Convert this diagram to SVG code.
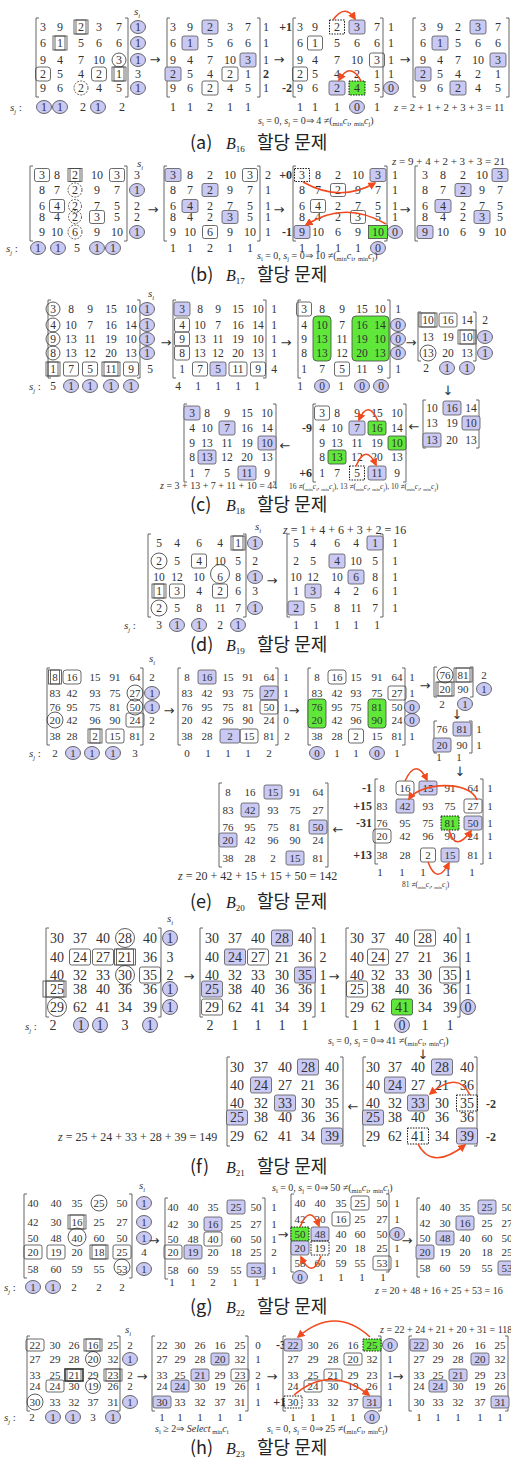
<svg xmlns="http://www.w3.org/2000/svg" width="511" height="1458" viewBox="0 0 511 1458">
<defs>
<marker id="ah" viewBox="0 0 10 10" refX="8" refY="5" markerWidth="5" markerHeight="5" orient="auto"><path d="M0,0 L10,5 L0,10 z" fill="#f04a1e"/></marker>
<style>
text{font-family:"Liberation Serif",serif;fill:#333}
.n{font-size:12px;text-anchor:middle}
#pc .n,#pd .n{font-size:11.5px}
#pe .n,#pg .n,#ph .n{font-size:11px}
#pf .n{font-size:14px}
.bd{font-weight:bold;font-size:12px;text-anchor:end}
.bl{fill:#c9c9f3;stroke:#555;stroke-width:.8}
.bx{fill:none;stroke:#444;stroke-width:.8}
.db{fill:none;stroke:#444;stroke-width:.8}
.dk{fill:none;stroke:#333;stroke-width:1.6}
.gr{fill:#5fe83a;stroke:#444;stroke-width:.8}
.dt{fill:none;stroke:#111;stroke-width:1;stroke-dasharray:1.5 1.2}
.gd{fill:#5fe83a;stroke:#111;stroke-width:1;stroke-dasharray:1.5 1.2}
.ci{fill:none;stroke:#333;stroke-width:.8}
.cd{fill:none;stroke:#333;stroke-width:.8;stroke-dasharray:2 1.2}
.cb{fill:#c9c9f3;stroke:#444;stroke-width:.8}
.br{fill:none;stroke:#555;stroke-width:.9}
.ar{fill:none;stroke:#f04a1e;stroke-width:1.6;marker-end:url(#ah)}
.op{font-family:"DejaVu Sans",sans-serif;font-size:13px;text-anchor:middle}
.mt{font-size:10px}
.sm{font-size:7.5px}
.sb{font-size:6.5px}
.sm .sb{font-size:5px}
.it{font-style:italic}
.lb{font-size:11px;font-style:italic}
.zt{font-size:12px}
.cap{font-family:"Noto Sans CJK KR","Noto Sans",sans-serif;font-size:18px;fill:#222}
.bi{font-family:"Liberation Serif",serif;font-style:italic;font-size:16px}
.bs{font-family:"Liberation Serif",serif;font-size:9px}
</style>
</defs>
<rect width="511" height="1458" fill="#fff"/>

<!-- ========== (a) ========== -->
<g id="pa">
<g id="a1">
<path class="br" d="M39,18H36V97H39M125,18H128V97H125"/>
<rect class="db" x="74" y="20" width="14" height="14"/><rect class="db" x="76" y="20" width="10" height="14"/>
<rect class="db" x="53" y="36" width="14" height="14"/><rect class="db" x="55" y="36" width="10" height="14"/>
<circle class="ci" cx="119" cy="60" r="7"/>
<rect class="bx" x="35.5" y="67" width="15" height="14" rx="3"/>
<rect class="bx" x="91.5" y="67" width="15" height="14" rx="3"/>
<rect class="db" x="112" y="67" width="14" height="14"/><rect class="db" x="114" y="67" width="10" height="14"/>
<circle class="cd" cx="81" cy="88" r="7"/>
<ellipse class="cb" cx="138" cy="27" rx="7.5" ry="6.5"/><ellipse class="cb" cx="138" cy="43" rx="7.5" ry="6.5"/><ellipse class="cb" cx="138" cy="60" rx="7.5" ry="6.5"/><ellipse class="cb" cx="138" cy="88" rx="7.5" ry="6.5"/>
<ellipse class="cb" cx="44" cy="107" rx="7.5" ry="6.5"/><ellipse class="cb" cx="60" cy="107" rx="7.5" ry="6.5"/><ellipse class="cb" cx="98" cy="107" rx="7.5" ry="6.5"/>
<text class="lb" x="134" y="15">s<tspan class="sb" dy="3">i</tspan></text>
<text class="lb" x="10" y="111">s<tspan class="sb" dy="3">j</tspan><tspan dy="-3" font-style="normal"> :</tspan></text>
<text class="n" y="31"><tspan x="43">3</tspan><tspan x="60">9</tspan><tspan x="81">2</tspan><tspan x="99">3</tspan><tspan x="119">7</tspan><tspan x="138">1</tspan></text>
<text class="n" y="47"><tspan x="43">6</tspan><tspan x="60">1</tspan><tspan x="81">5</tspan><tspan x="99">6</tspan><tspan x="119">6</tspan><tspan x="138">1</tspan></text>
<text class="n" y="64"><tspan x="43">9</tspan><tspan x="60">4</tspan><tspan x="81">7</tspan><tspan x="99">10</tspan><tspan x="119">3</tspan><tspan x="138">1</tspan></text>
<text class="n" y="78"><tspan x="43">2</tspan><tspan x="60">5</tspan><tspan x="81">4</tspan><tspan x="99">2</tspan><tspan x="119">1</tspan><tspan x="138">3</tspan></text>
<text class="n" y="92"><tspan x="43">9</tspan><tspan x="60">6</tspan><tspan x="81">2</tspan><tspan x="99">4</tspan><tspan x="119">5</tspan><tspan x="138">1</tspan></text>
<text class="n" y="111"><tspan x="44">1</tspan><tspan x="60">1</tspan><tspan x="83">2</tspan><tspan x="98">1</tspan><tspan x="122">2</tspan></text>
</g>
<g id="a2">
<path class="br" d="M170,18H167V97H170M257,18H260V97H257"/>
<rect class="bl" x="202" y="20" width="16" height="14" rx="2"/>
<rect class="bl" x="182" y="36" width="16" height="14" rx="2"/>
<rect class="bl" x="240" y="53" width="16" height="14" rx="2"/>
<rect class="bl" x="165" y="67" width="16" height="14" rx="2"/>
<rect class="bx" x="222" y="67" width="16" height="14" rx="2"/>
<rect class="bx" x="202" y="81" width="16" height="14" rx="2"/>
<text class="n" y="31"><tspan x="173">3</tspan><tspan x="190">9</tspan><tspan x="210">2</tspan><tspan x="230">3</tspan><tspan x="248">7</tspan><tspan x="266">1</tspan></text>
<text class="n" y="47"><tspan x="173">6</tspan><tspan x="190">1</tspan><tspan x="210">5</tspan><tspan x="230">6</tspan><tspan x="248">6</tspan><tspan x="266">1</tspan></text>
<text class="n" y="64"><tspan x="173">9</tspan><tspan x="190">4</tspan><tspan x="210">7</tspan><tspan x="230">10</tspan><tspan x="248">3</tspan><tspan x="266">1</tspan></text>
<text class="n" y="78"><tspan x="173">2</tspan><tspan x="190">5</tspan><tspan x="210">4</tspan><tspan x="230">2</tspan><tspan x="248">1</tspan><tspan x="266" font-weight="bold">2</tspan></text>
<text class="n" y="92"><tspan x="173">9</tspan><tspan x="190">6</tspan><tspan x="210">2</tspan><tspan x="230">4</tspan><tspan x="248">5</tspan><tspan x="266">1</tspan></text>
<text class="n" y="111"><tspan x="173">1</tspan><tspan x="190">1</tspan><tspan x="210">2</tspan><tspan x="230">1</tspan><tspan x="248">1</tspan></text>
</g>
<g id="a3">
<path class="br" d="M296,18H293V97H296M380,18H383V97H380"/>
<text class="bd" x="292" y="31">+1</text><text class="bd" x="292" y="92">-2</text>
<rect class="dt" x="329.5" y="20" width="15" height="14"/>
<rect class="bl" x="349" y="20" width="16" height="14" rx="2"/>
<rect class="bx" x="307.5" y="36" width="15" height="14" rx="2"/>
<rect class="bx" x="369.5" y="53" width="15" height="14" rx="2"/>
<rect class="bx" x="292.5" y="67" width="15" height="14" rx="2"/>
<rect class="bl" x="329" y="81" width="16" height="14" rx="2"/>
<rect class="gd" x="349" y="81" width="16" height="14"/>
<ellipse class="cb" cx="391" cy="88" rx="7.5" ry="6.5"/>
<ellipse class="cb" cx="357" cy="107" rx="7.5" ry="6.5"/>
<text class="n" y="31"><tspan x="300">3</tspan><tspan x="315">9</tspan><tspan x="337">2</tspan><tspan x="357">3</tspan><tspan x="377">7</tspan><tspan x="391">1</tspan></text>
<text class="n" y="47"><tspan x="300">6</tspan><tspan x="315">1</tspan><tspan x="337">5</tspan><tspan x="357">6</tspan><tspan x="377">6</tspan><tspan x="391">1</tspan></text>
<text class="n" y="64"><tspan x="300">9</tspan><tspan x="315">4</tspan><tspan x="337">7</tspan><tspan x="357">10</tspan><tspan x="377">3</tspan><tspan x="391">1</tspan></text>
<text class="n" y="78"><tspan x="300">2</tspan><tspan x="315">5</tspan><tspan x="337">4</tspan><tspan x="357">2</tspan><tspan x="377">1</tspan><tspan x="391">1</tspan></text>
<text class="n" y="92"><tspan x="300">9</tspan><tspan x="315">6</tspan><tspan x="337">2</tspan><tspan x="357">4</tspan><tspan x="377">5</tspan><tspan x="391">0</tspan></text>
<text class="n" y="111"><tspan x="300">1</tspan><tspan x="315">1</tspan><tspan x="337">1</tspan><tspan x="357">0</tspan><tspan x="377">1</tspan></text>
<text class="mt" x="258" y="124"><tspan class="it">s</tspan><tspan class="sb" dy="2">i</tspan><tspan dy="-2"> = 0, </tspan><tspan class="it">s</tspan><tspan class="sb" dy="2">j</tspan><tspan dy="-2"> = 0⇒ 4 ≠(</tspan><tspan class="sb" dy="2">min</tspan><tspan class="it" dy="-2">c</tspan><tspan class="sb" dy="2">i</tspan><tspan dy="-2">, </tspan><tspan class="sb" dy="2">min</tspan><tspan class="it" dy="-2">c</tspan><tspan class="sb" dy="2">j</tspan><tspan dy="-2">)</tspan></text>
</g>
<g id="a4">
<path class="br" d="M416,18H413V97H416M506,18H509V97H506"/>
<rect class="bl" x="470" y="20" width="16" height="14" rx="2"/>
<rect class="bl" x="432" y="36" width="16" height="14" rx="2"/>
<rect class="bl" x="490" y="53" width="16" height="14" rx="2"/>
<rect class="bl" x="415" y="67" width="16" height="14" rx="2"/>
<rect class="bl" x="450" y="81" width="16" height="14" rx="2"/>
<text class="n" y="31"><tspan x="423">3</tspan><tspan x="440">9</tspan><tspan x="458">2</tspan><tspan x="478">3</tspan><tspan x="498">7</tspan></text>
<text class="n" y="47"><tspan x="423">6</tspan><tspan x="440">1</tspan><tspan x="458">5</tspan><tspan x="478">6</tspan><tspan x="498">6</tspan></text>
<text class="n" y="64"><tspan x="423">9</tspan><tspan x="440">4</tspan><tspan x="458">7</tspan><tspan x="478">10</tspan><tspan x="498">3</tspan></text>
<text class="n" y="78"><tspan x="423">2</tspan><tspan x="440">5</tspan><tspan x="458">4</tspan><tspan x="478">2</tspan><tspan x="498">1</tspan></text>
<text class="n" y="92"><tspan x="423">9</tspan><tspan x="440">6</tspan><tspan x="458">2</tspan><tspan x="478">4</tspan><tspan x="498">5</tspan></text>
<text x="394" y="111" font-size="10.8"><tspan class="it">z</tspan> = 2 + 1 + 2 + 3 + 3 = 11</text>
</g>
<g id="capa"><text class="cap" y="149"><tspan x="190">(a)</tspan><tspan class="bi" x="226">B</tspan><tspan class="bs" dy="3">16</tspan><tspan x="257" dy="-3">할당 문제</tspan></text></g>
</g>

<!-- ========== (b) ========== -->
<g id="pb">
<g id="b1">
<path class="br" d="M33,166H30V241H33M124,166H127V241H124"/>
<rect class="bx" x="34.5" y="168.5" width="15" height="13" rx="2"/>
<rect class="db" x="68" y="168.5" width="14" height="13"/><rect class="db" x="70" y="168.5" width="10" height="13"/>
<rect class="bx" x="109.5" y="168.5" width="15" height="13" rx="2"/>
<circle class="cd" cx="75" cy="190" r="7"/>
<rect class="bx" x="49.5" y="199.5" width="15" height="13" rx="2"/>
<circle class="cd" cx="75" cy="206" r="6.5"/>
<circle class="cd" cx="75" cy="217" r="6.5"/>
<rect class="bx" x="89.5" y="210.5" width="15" height="13" rx="2"/>
<circle class="cd" cx="75" cy="232" r="7"/>
<ellipse class="cb" cx="137" cy="190" rx="7.5" ry="6.5"/><ellipse class="cb" cx="137" cy="232" rx="7.5" ry="6.5"/>
<ellipse class="cb" cx="38" cy="248" rx="7.5" ry="6.5"/><ellipse class="cb" cx="58" cy="248" rx="7.5" ry="6.5"/><ellipse class="cb" cx="97" cy="248" rx="7.5" ry="6.5"/><ellipse class="cb" cx="113" cy="248" rx="7.5" ry="6.5"/>
<text class="lb" x="137" y="167">s<tspan class="sb" dy="3">i</tspan></text>
<text class="lb" x="6" y="252">s<tspan class="sb" dy="3">j</tspan><tspan dy="-3" font-style="normal"> :</tspan></text>
<text class="n" y="179"><tspan x="42">3</tspan><tspan x="57">8</tspan><tspan x="75">2</tspan><tspan x="97">10</tspan><tspan x="117">3</tspan><tspan x="137">3</tspan></text>
<text class="n" y="194"><tspan x="42">8</tspan><tspan x="57">7</tspan><tspan x="75">2</tspan><tspan x="97">9</tspan><tspan x="117">7</tspan><tspan x="137">1</tspan></text>
<text class="n" y="210"><tspan x="42">6</tspan><tspan x="57">4</tspan><tspan x="75">2</tspan><tspan x="97">7</tspan><tspan x="117">5</tspan><tspan x="137">2</tspan></text>
<text class="n" y="221"><tspan x="42">8</tspan><tspan x="57">4</tspan><tspan x="75">2</tspan><tspan x="97">3</tspan><tspan x="117">5</tspan><tspan x="137">2</tspan></text>
<text class="n" y="236"><tspan x="42">9</tspan><tspan x="57">10</tspan><tspan x="75">6</tspan><tspan x="97">9</tspan><tspan x="117">10</tspan><tspan x="137">1</tspan></text>
<text class="n" y="252"><tspan x="38">1</tspan><tspan x="58">1</tspan><tspan x="77">5</tspan><tspan x="97">1</tspan><tspan x="113">1</tspan></text>
</g>
<g id="b2">
<path class="br" d="M167,166H164V241H167M257,166H260V241H257"/>
<rect class="bl" x="165" y="168.5" width="16" height="13" rx="2"/>
<rect class="bx" x="242.5" y="168.5" width="15" height="13" rx="2"/>
<rect class="bl" x="202" y="183.5" width="16" height="13" rx="2"/>
<rect class="bl" x="182" y="199.5" width="16" height="13" rx="2"/>
<rect class="bl" x="222" y="210.5" width="16" height="13" rx="2"/>
<rect class="bx" x="202.5" y="225.5" width="15" height="13" rx="2"/>
<text class="n" y="179"><tspan x="173">3</tspan><tspan x="190">8</tspan><tspan x="210">2</tspan><tspan x="230">10</tspan><tspan x="250">3</tspan><tspan x="268">2</tspan></text>
<text class="n" y="194"><tspan x="173">8</tspan><tspan x="190">7</tspan><tspan x="210">2</tspan><tspan x="230">9</tspan><tspan x="250">7</tspan><tspan x="268">1</tspan></text>
<text class="n" y="210"><tspan x="173">6</tspan><tspan x="190">4</tspan><tspan x="210">2</tspan><tspan x="230">7</tspan><tspan x="250">5</tspan><tspan x="268">1</tspan></text>
<text class="n" y="221"><tspan x="173">8</tspan><tspan x="190">4</tspan><tspan x="210">2</tspan><tspan x="230">3</tspan><tspan x="250">5</tspan><tspan x="268">1</tspan></text>
<text class="n" y="236"><tspan x="173">9</tspan><tspan x="190">10</tspan><tspan x="210">6</tspan><tspan x="230">9</tspan><tspan x="250">10</tspan><tspan x="268">1</tspan></text>
<text class="n" y="252"><tspan x="173">1</tspan><tspan x="190">1</tspan><tspan x="210">2</tspan><tspan x="230">1</tspan><tspan x="250">1</tspan></text>
</g>
<g id="b3">
<path class="br" d="M296,166H293V241H296M384,166H387V241H384"/>
<text class="bd" x="292" y="179">+0</text><text class="bd" x="292" y="236">-1</text>
<rect class="dt" x="294.5" y="168.5" width="15" height="13"/>
<rect class="bl" x="370" y="168.5" width="16" height="13" rx="2"/>
<rect class="bx" x="330.5" y="183.5" width="15" height="13" rx="2"/>
<rect class="bx" x="310.5" y="199.5" width="15" height="13" rx="2"/>
<rect class="bx" x="350.5" y="210.5" width="15" height="13" rx="2"/>
<rect class="bl" x="294" y="225.5" width="16" height="13" rx="2"/>
<rect class="gr" x="368.5" y="225.5" width="19" height="13"/>
<ellipse class="cb" cx="395" cy="232" rx="7.5" ry="6.5"/>
<ellipse class="cb" cx="378" cy="248" rx="7.5" ry="6.5"/>
<text class="n" y="179"><tspan x="302">3</tspan><tspan x="318">8</tspan><tspan x="338">2</tspan><tspan x="358">10</tspan><tspan x="378">3</tspan><tspan x="395">1</tspan></text>
<text class="n" y="194"><tspan x="302">8</tspan><tspan x="318">7</tspan><tspan x="338">2</tspan><tspan x="358">9</tspan><tspan x="378">7</tspan><tspan x="395">1</tspan></text>
<text class="n" y="210"><tspan x="302">6</tspan><tspan x="318">4</tspan><tspan x="338">2</tspan><tspan x="358">7</tspan><tspan x="378">5</tspan><tspan x="395">1</tspan></text>
<text class="n" y="221"><tspan x="302">8</tspan><tspan x="318">4</tspan><tspan x="338">2</tspan><tspan x="358">3</tspan><tspan x="378">5</tspan><tspan x="395">1</tspan></text>
<text class="n" y="236"><tspan x="302">9</tspan><tspan x="318">10</tspan><tspan x="338">6</tspan><tspan x="358">9</tspan><tspan x="378">10</tspan><tspan x="395">0</tspan></text>
<text class="n" y="252"><tspan x="302">1</tspan><tspan x="318">1</tspan><tspan x="338">1</tspan><tspan x="358">1</tspan><tspan x="378">0</tspan></text>
<text class="mt" x="257" y="259"><tspan class="it">s</tspan><tspan class="sb" dy="2">i</tspan><tspan dy="-2"> = 0, </tspan><tspan class="it">s</tspan><tspan class="sb" dy="2">j</tspan><tspan dy="-2"> = 0⇒ 10 ≠(</tspan><tspan class="sb" dy="2">min</tspan><tspan class="it" dy="-2">c</tspan><tspan class="sb" dy="2">i</tspan><tspan dy="-2">, </tspan><tspan class="sb" dy="2">min</tspan><tspan class="it" dy="-2">c</tspan><tspan class="sb" dy="2">j</tspan><tspan dy="-2">)</tspan></text>
</g>
<g id="b4">
<path class="br" d="M418,166H415V241H418"/>
<rect class="bl" x="492" y="168.5" width="16" height="13" rx="2"/>
<rect class="bl" x="455" y="183.5" width="16" height="13" rx="2"/>
<rect class="bl" x="435" y="199.5" width="16" height="13" rx="2"/>
<rect class="bl" x="474" y="210.5" width="16" height="13" rx="2"/>
<rect class="bl" x="417" y="225.5" width="16" height="13" rx="2"/>
<text class="n" y="179"><tspan x="425">3</tspan><tspan x="443">8</tspan><tspan x="463">2</tspan><tspan x="482">10</tspan><tspan x="500">3</tspan></text>
<text class="n" y="194"><tspan x="425">8</tspan><tspan x="443">7</tspan><tspan x="463">2</tspan><tspan x="482">9</tspan><tspan x="500">7</tspan></text>
<text class="n" y="210"><tspan x="425">6</tspan><tspan x="443">4</tspan><tspan x="463">2</tspan><tspan x="482">7</tspan><tspan x="500">5</tspan></text>
<text class="n" y="221"><tspan x="425">8</tspan><tspan x="443">4</tspan><tspan x="463">2</tspan><tspan x="482">3</tspan><tspan x="500">5</tspan></text>
<text class="n" y="236"><tspan x="425">9</tspan><tspan x="443">10</tspan><tspan x="463">6</tspan><tspan x="482">9</tspan><tspan x="500">10</tspan></text>
<text x="392" y="165" font-size="11"><tspan class="it">z</tspan> = 9 + 4 + 2 + 3 + 3 = 21</text>
</g>
<g id="capb"><text class="cap" y="281"><tspan x="190">(b)</tspan><tspan class="bi" x="226">B</tspan><tspan class="bs" dy="3">17</tspan><tspan x="257" dy="-3">할당 문제</tspan></text></g>
</g>

<!-- ========== (c) ========== -->
<g id="pc">
<g id="c1">
<path class="br" d="M51,300H48V378H51M137,300H140V378H137"/>
<circle class="ci" cx="53" cy="309" r="7"/><circle class="ci" cx="53" cy="325" r="7"/><circle class="ci" cx="53" cy="339" r="7"/><circle class="ci" cx="53" cy="353" r="7"/>
<rect class="db" x="46" y="362" width="14" height="14"/><rect class="db" x="48" y="362" width="10" height="14"/>
<rect class="bx" x="63.5" y="362" width="15" height="14" rx="2"/>
<rect class="bx" x="82.5" y="362" width="15" height="14" rx="2"/>
<rect class="db" x="102" y="362" width="18" height="14"/><rect class="db" x="104" y="362" width="14" height="14"/>
<rect class="bx" x="123.5" y="362" width="15" height="14" rx="2"/>
<ellipse class="cb" cx="147" cy="309" rx="7.5" ry="6.5"/><ellipse class="cb" cx="147" cy="325" rx="7.5" ry="6.5"/><ellipse class="cb" cx="147" cy="339" rx="7.5" ry="6.5"/><ellipse class="cb" cx="147" cy="353" rx="7.5" ry="6.5"/>
<ellipse class="cb" cx="71" cy="386" rx="7.5" ry="6.5"/><ellipse class="cb" cx="90" cy="386" rx="7.5" ry="6.5"/><ellipse class="cb" cx="111" cy="386" rx="7.5" ry="6.5"/><ellipse class="cb" cx="131" cy="386" rx="7.5" ry="6.5"/>
<text class="lb" x="148" y="297">s<tspan class="sb" dy="3">i</tspan></text>
<text class="lb" x="29" y="390">s<tspan class="sb" dy="3">j</tspan><tspan dy="-3" font-style="normal"> :</tspan></text>
<text class="n" y="313"><tspan x="53">3</tspan><tspan x="71">8</tspan><tspan x="90">9</tspan><tspan x="111">15</tspan><tspan x="131">10</tspan><tspan x="147">1</tspan></text>
<text class="n" y="329"><tspan x="53">4</tspan><tspan x="71">10</tspan><tspan x="90">7</tspan><tspan x="111">16</tspan><tspan x="131">14</tspan><tspan x="147">1</tspan></text>
<text class="n" y="343"><tspan x="53">9</tspan><tspan x="71">13</tspan><tspan x="90">11</tspan><tspan x="111">19</tspan><tspan x="131">10</tspan><tspan x="147">1</tspan></text>
<text class="n" y="357"><tspan x="53">8</tspan><tspan x="71">13</tspan><tspan x="90">12</tspan><tspan x="111">20</tspan><tspan x="131">13</tspan><tspan x="147">1</tspan></text>
<text class="n" y="373"><tspan x="53">1</tspan><tspan x="71">7</tspan><tspan x="90">5</tspan><tspan x="111">11</tspan><tspan x="131">9</tspan><tspan x="150">5</tspan></text>
<text class="n" y="390"><tspan x="53">5</tspan><tspan x="71">1</tspan><tspan x="90">1</tspan><tspan x="111">1</tspan><tspan x="131">1</tspan></text>
</g>
<g id="c2">
<path class="br" d="M176,300H173V378H176M263,300H266V378H263"/>
<rect class="bl" x="174" y="302" width="16" height="14" rx="2"/>
<rect class="bx" x="174.5" y="318" width="15" height="14" rx="2"/>
<rect class="bx" x="174.5" y="332" width="15" height="14" rx="2"/>
<rect class="bx" x="174.5" y="346" width="15" height="14" rx="2"/>
<rect class="bx" x="192.5" y="362" width="15" height="14" rx="2"/>
<rect class="bl" x="210" y="362" width="16" height="14" rx="2"/>
<rect class="bx" x="229" y="362" width="18" height="14" rx="2"/>
<rect class="bx" x="250.5" y="362" width="15" height="14" rx="2"/>
<text class="n" y="313"><tspan x="182">3</tspan><tspan x="200">8</tspan><tspan x="218">9</tspan><tspan x="238">15</tspan><tspan x="258">10</tspan><tspan x="274">1</tspan></text>
<text class="n" y="329"><tspan x="182">4</tspan><tspan x="200">10</tspan><tspan x="218">7</tspan><tspan x="238">16</tspan><tspan x="258">14</tspan><tspan x="274">1</tspan></text>
<text class="n" y="343"><tspan x="182">9</tspan><tspan x="200">13</tspan><tspan x="218">11</tspan><tspan x="238">19</tspan><tspan x="258">10</tspan><tspan x="274">1</tspan></text>
<text class="n" y="357"><tspan x="182">8</tspan><tspan x="200">13</tspan><tspan x="218">12</tspan><tspan x="238">20</tspan><tspan x="258">13</tspan><tspan x="274">1</tspan></text>
<text class="n" y="373"><tspan x="182">1</tspan><tspan x="200">7</tspan><tspan x="218">5</tspan><tspan x="238">11</tspan><tspan x="258">9</tspan><tspan x="274">4</tspan></text>
<text class="n" y="390"><tspan x="178">4</tspan><tspan x="198">1</tspan><tspan x="218">1</tspan><tspan x="238">1</tspan><tspan x="257">1</tspan></text>
</g>
<g id="c3">
<path class="br" d="M301,300H298V378H301M387,300H390V378H387"/>
<rect class="bx" x="296.5" y="302" width="15" height="14" rx="2"/>
<rect class="gr" x="313" y="316" width="18" height="45" rx="4"/>
<rect class="gr" x="352" y="316" width="37" height="45" rx="4"/>
<rect class="bx" x="334.5" y="362" width="15" height="14" rx="2"/>
<ellipse class="cb" cx="398" cy="325" rx="7.5" ry="6.5"/><ellipse class="cb" cx="398" cy="339" rx="7.5" ry="6.5"/><ellipse class="cb" cx="398" cy="353" rx="7.5" ry="6.5"/>
<ellipse class="cb" cx="322" cy="386" rx="7.5" ry="6.5"/><ellipse class="cb" cx="362" cy="386" rx="7.5" ry="6.5"/><ellipse class="cb" cx="381" cy="386" rx="7.5" ry="6.5"/>
<text class="n" y="313"><tspan x="304">3</tspan><tspan x="322">8</tspan><tspan x="342">9</tspan><tspan x="362">15</tspan><tspan x="380">10</tspan><tspan x="398">1</tspan></text>
<text class="n" y="329"><tspan x="304">4</tspan><tspan x="322">10</tspan><tspan x="342">7</tspan><tspan x="362">16</tspan><tspan x="380">14</tspan><tspan x="398">0</tspan></text>
<text class="n" y="343"><tspan x="304">9</tspan><tspan x="322">13</tspan><tspan x="342">11</tspan><tspan x="362">19</tspan><tspan x="380">10</tspan><tspan x="398">0</tspan></text>
<text class="n" y="357"><tspan x="304">8</tspan><tspan x="322">13</tspan><tspan x="342">12</tspan><tspan x="362">20</tspan><tspan x="380">13</tspan><tspan x="398">0</tspan></text>
<text class="n" y="373"><tspan x="304">1</tspan><tspan x="322">7</tspan><tspan x="342">5</tspan><tspan x="362">11</tspan><tspan x="380">9</tspan><tspan x="398">1</tspan></text>
<text class="n" y="390"><tspan x="300">1</tspan><tspan x="322">0</tspan><tspan x="341">1</tspan><tspan x="362">0</tspan><tspan x="381">0</tspan></text>
</g>
<g id="c4">
<path class="br" d="M421,312H418V361H421M473,312H476V361H473"/>
<rect class="db" x="419" y="313" width="18" height="14"/><rect class="db" x="421" y="313" width="14" height="14"/>
<rect class="bx" x="439" y="313" width="18" height="14" rx="2"/>
<rect class="db" x="458" y="330" width="18" height="14"/><rect class="db" x="460" y="330" width="14" height="14"/>
<circle class="ci" cx="428" cy="353" r="8"/>
<ellipse class="cb" cx="485" cy="337" rx="7.5" ry="6.5"/><ellipse class="cb" cx="485" cy="353" rx="7.5" ry="6.5"/>
<ellipse class="cb" cx="447" cy="368" rx="7.5" ry="6.5"/><ellipse class="cb" cx="467" cy="368" rx="7.5" ry="6.5"/>
<text class="n" y="324"><tspan x="428">10</tspan><tspan x="448">16</tspan><tspan x="467">14</tspan><tspan x="485">2</tspan></text>
<text class="n" y="341"><tspan x="428">13</tspan><tspan x="448">19</tspan><tspan x="467">10</tspan><tspan x="485">1</tspan></text>
<text class="n" y="357"><tspan x="428">13</tspan><tspan x="448">20</tspan><tspan x="467">13</tspan><tspan x="485">1</tspan></text>
<text class="n" y="372"><tspan x="426">2</tspan><tspan x="447">1</tspan><tspan x="467">1</tspan></text>
</g>
<g id="c5">
<path class="br" d="M426,400H423V448H426M476,400H479V448H476"/>
<rect class="bl" x="443" y="401" width="18" height="14" rx="2"/>
<rect class="bl" x="462" y="416" width="18" height="14" rx="2"/>
<rect class="bl" x="423" y="433" width="18" height="14" rx="2"/>
<text class="n" y="412"><tspan x="432">10</tspan><tspan x="452">16</tspan><tspan x="471">14</tspan></text>
<text class="n" y="427"><tspan x="432">13</tspan><tspan x="452">19</tspan><tspan x="471">10</tspan></text>
<text class="n" y="444"><tspan x="432">13</tspan><tspan x="452">20</tspan><tspan x="471">13</tspan></text>
</g>
<g id="c6">
<path class="br" d="M316,404H313V482H316M403,404H406V482H403"/>
<text class="bd" x="312" y="432">-9</text><text class="bd" x="312" y="477">+6</text>
<rect class="bx" x="314.5" y="406" width="15" height="14" rx="2"/>
<rect class="bl" x="349" y="421" width="16" height="14" rx="2"/>
<rect class="gr" x="368" y="421" width="18" height="14" rx="2"/>
<rect class="gr" x="388" y="436" width="18" height="14" rx="2"/>
<rect class="gr" x="328" y="450" width="18" height="14" rx="2"/>
<rect class="dt" x="349.5" y="466" width="15" height="14"/>
<rect class="bl" x="368" y="466" width="18" height="14" rx="2"/>
<text class="n" y="417"><tspan x="322">3</tspan><tspan x="337">8</tspan><tspan x="357">9</tspan><tspan x="377">15</tspan><tspan x="397">10</tspan></text>
<text class="n" y="432"><tspan x="322">4</tspan><tspan x="337">10</tspan><tspan x="357">7</tspan><tspan x="377">16</tspan><tspan x="397">14</tspan></text>
<text class="n" y="447"><tspan x="322">9</tspan><tspan x="337">13</tspan><tspan x="357">11</tspan><tspan x="377">19</tspan><tspan x="397">10</tspan></text>
<text class="n" y="461"><tspan x="322">8</tspan><tspan x="337">13</tspan><tspan x="357">12</tspan><tspan x="377">20</tspan><tspan x="397">13</tspan></text>
<text class="n" y="477"><tspan x="322">1</tspan><tspan x="337">7</tspan><tspan x="357">5</tspan><tspan x="377">11</tspan><tspan x="397">9</tspan></text>
</g>
<g id="c7">
<path class="br" d="M187,404H184V482H187M273,404H276V482H273"/>
<rect class="bl" x="184" y="406" width="16" height="14" rx="2"/>
<rect class="bl" x="219" y="421" width="16" height="14" rx="2"/>
<rect class="bl" x="258" y="436" width="18" height="14" rx="2"/>
<rect class="bl" x="198" y="450" width="18" height="14" rx="2"/>
<rect class="bl" x="238" y="466" width="18" height="14" rx="2"/>
<text class="n" y="417"><tspan x="192">3</tspan><tspan x="207">8</tspan><tspan x="227">9</tspan><tspan x="247">15</tspan><tspan x="267">10</tspan></text>
<text class="n" y="432"><tspan x="192">4</tspan><tspan x="207">10</tspan><tspan x="227">7</tspan><tspan x="247">16</tspan><tspan x="267">14</tspan></text>
<text class="n" y="447"><tspan x="192">9</tspan><tspan x="207">13</tspan><tspan x="227">11</tspan><tspan x="247">19</tspan><tspan x="267">10</tspan></text>
<text class="n" y="461"><tspan x="192">8</tspan><tspan x="207">13</tspan><tspan x="227">12</tspan><tspan x="247">20</tspan><tspan x="267">13</tspan></text>
<text class="n" y="477"><tspan x="192">1</tspan><tspan x="207">7</tspan><tspan x="227">5</tspan><tspan x="247">11</tspan><tspan x="267">9</tspan></text>
<text class="mt" x="160" y="489" font-size="10.5"><tspan class="it">z</tspan> = 3 + 13 + 7 + 11 + 10 = 44</text>
<text class="sm" x="289" y="489">16 ≠(<tspan class="sb" dy="1.5">min</tspan><tspan class="it" dy="-1.5">c</tspan><tspan class="sb" dy="1.5">i</tspan><tspan dy="-1.5">, </tspan><tspan class="sb" dy="1.5">min</tspan><tspan class="it" dy="-1.5">c</tspan><tspan class="sb" dy="1.5">j</tspan><tspan dy="-1.5">), 13 ≠(</tspan><tspan class="sb" dy="1.5">min</tspan><tspan class="it" dy="-1.5">c</tspan><tspan class="sb" dy="1.5">i</tspan><tspan dy="-1.5">, </tspan><tspan class="sb" dy="1.5">min</tspan><tspan class="it" dy="-1.5">c</tspan><tspan class="sb" dy="1.5">j</tspan><tspan dy="-1.5">), 10 ≠(</tspan><tspan class="sb" dy="1.5">min</tspan><tspan class="it" dy="-1.5">c</tspan><tspan class="sb" dy="1.5">i</tspan><tspan dy="-1.5">, </tspan><tspan class="sb" dy="1.5">min</tspan><tspan class="it" dy="-1.5">c</tspan><tspan class="sb" dy="1.5">j</tspan><tspan dy="-1.5">)</tspan></text>
</g>
<g id="capc"><text class="cap" y="511"><tspan x="190">(c)</tspan><tspan class="bi" x="226">B</tspan><tspan class="bs" dy="3">18</tspan><tspan x="257" dy="-3">할당 문제</tspan></text></g>
</g>

<!-- ========== (d) ========== -->
<g id="pd">
<g id="d1">
<path class="br" d="M151,534H148V617H151M243,534H246V617H243"/>
<rect class="db" x="231" y="536" width="14" height="14"/><rect class="db" x="233" y="536" width="10" height="14"/>
<circle class="ci" cx="159" cy="561" r="8"/>
<rect class="bx" x="191.5" y="554" width="15" height="14" rx="2"/>
<circle class="ci" cx="220" cy="574" r="9.5"/>
<rect class="db" x="152" y="584" width="14" height="14"/><rect class="db" x="154" y="584" width="10" height="14"/>
<rect class="bx" x="169.5" y="584" width="15" height="14" rx="2"/>
<rect class="bx" x="212.5" y="584" width="15" height="14" rx="2"/>
<circle class="ci" cx="159" cy="608" r="8"/>
<ellipse class="cb" cx="255" cy="543" rx="7.5" ry="6.5"/><ellipse class="cb" cx="255" cy="577" rx="7.5" ry="6.5"/><ellipse class="cb" cx="255" cy="608" rx="7.5" ry="6.5"/>
<ellipse class="cb" cx="177" cy="625" rx="7.5" ry="6.5"/><ellipse class="cb" cx="199" cy="625" rx="7.5" ry="6.5"/><ellipse class="cb" cx="238" cy="625" rx="7.5" ry="6.5"/>
<text class="lb" x="255" y="530">s<tspan class="sb" dy="3">i</tspan></text>
<text class="lb" x="124" y="629">s<tspan class="sb" dy="3">j</tspan><tspan dy="-3" font-style="normal"> :</tspan></text>
<text class="n" y="547"><tspan x="159">5</tspan><tspan x="177">4</tspan><tspan x="199">6</tspan><tspan x="220">4</tspan><tspan x="238">1</tspan><tspan x="255">1</tspan></text>
<text class="n" y="565"><tspan x="159">2</tspan><tspan x="177">5</tspan><tspan x="199">4</tspan><tspan x="220">10</tspan><tspan x="238">5</tspan><tspan x="255">2</tspan></text>
<text class="n" y="581"><tspan x="159">10</tspan><tspan x="177">12</tspan><tspan x="199">10</tspan><tspan x="220">6</tspan><tspan x="238">8</tspan><tspan x="255">1</tspan></text>
<text class="n" y="595"><tspan x="159">1</tspan><tspan x="177">3</tspan><tspan x="199">4</tspan><tspan x="220">2</tspan><tspan x="238">6</tspan><tspan x="255">3</tspan></text>
<text class="n" y="612"><tspan x="159">2</tspan><tspan x="177">5</tspan><tspan x="199">8</tspan><tspan x="220">11</tspan><tspan x="238">7</tspan><tspan x="255">1</tspan></text>
<text class="n" y="629"><tspan x="159">3</tspan><tspan x="177">1</tspan><tspan x="199">1</tspan><tspan x="220">2</tspan><tspan x="238">1</tspan></text>
</g>
<g id="d2">
<path class="br" d="M290,534H287V617H290M380,534H383V617H380"/>
<rect class="bl" x="367" y="536" width="16" height="14" rx="2"/>
<rect class="bl" x="329" y="554" width="16" height="14" rx="2"/>
<rect class="bl" x="348" y="570" width="16" height="14" rx="2"/>
<rect class="bl" x="305" y="584" width="16" height="14" rx="2"/>
<rect class="bl" x="288" y="601" width="16" height="14" rx="2"/>
<text class="n" y="547"><tspan x="296">5</tspan><tspan x="313">4</tspan><tspan x="337">6</tspan><tspan x="356">4</tspan><tspan x="375">1</tspan><tspan x="395">1</tspan></text>
<text class="n" y="565"><tspan x="296">2</tspan><tspan x="313">5</tspan><tspan x="337">4</tspan><tspan x="356">10</tspan><tspan x="375">5</tspan><tspan x="395">1</tspan></text>
<text class="n" y="581"><tspan x="296">10</tspan><tspan x="313">12</tspan><tspan x="337">10</tspan><tspan x="356">6</tspan><tspan x="375">8</tspan><tspan x="395">1</tspan></text>
<text class="n" y="595"><tspan x="296">1</tspan><tspan x="313">3</tspan><tspan x="337">4</tspan><tspan x="356">2</tspan><tspan x="375">6</tspan><tspan x="395">1</tspan></text>
<text class="n" y="612"><tspan x="296">2</tspan><tspan x="313">5</tspan><tspan x="337">8</tspan><tspan x="356">11</tspan><tspan x="375">7</tspan><tspan x="395">1</tspan></text>
<text class="n" y="629"><tspan x="296">1</tspan><tspan x="316">1</tspan><tspan x="337">1</tspan><tspan x="356">1</tspan><tspan x="377">1</tspan></text>
<text class="zt" x="283" y="534"><tspan class="it">z</tspan> = 1 + 4 + 6 + 3 + 2 = 16</text>
</g>
<g id="capd"><text class="cap" y="651"><tspan x="190">(d)</tspan><tspan class="bi" x="226">B</tspan><tspan class="bs" dy="3">19</tspan><tspan x="257" dy="-3">할당 문제</tspan></text></g>
</g>

<!-- ========== (e) ========== -->
<g id="pe">
<g id="e1">
<path class="br" d="M50,668H47V745H50M140,668H143V745H140"/>
<rect class="db" x="48.5" y="670" width="13" height="14"/><rect class="db" x="50.5" y="670" width="9" height="14"/>
<rect class="bx" x="63" y="670" width="18" height="14" rx="3"/>
<circle class="ci" cx="135" cy="693" r="8"/>
<circle class="ci" cx="135" cy="707" r="8"/>
<circle class="ci" cx="55" cy="720" r="8"/>
<rect class="bx" x="126" y="713" width="18" height="14" rx="2"/>
<rect class="db" x="88" y="729" width="14" height="14"/><rect class="db" x="90" y="729" width="10" height="14"/>
<rect class="bx" x="106" y="729" width="18" height="14" rx="2"/>
<ellipse class="cb" cx="152" cy="693" rx="7.5" ry="6.5"/><ellipse class="cb" cx="152" cy="707" rx="7.5" ry="6.5"/>
<ellipse class="cb" cx="73" cy="753" rx="7.5" ry="6.5"/><ellipse class="cb" cx="92" cy="753" rx="7.5" ry="6.5"/><ellipse class="cb" cx="113" cy="753" rx="7.5" ry="6.5"/>
<text class="lb" x="149" y="662">s<tspan class="sb" dy="3">i</tspan></text>
<text class="lb" x="29" y="757">s<tspan class="sb" dy="3">j</tspan><tspan dy="-3" font-style="normal"> :</tspan></text>
<text class="n" y="681"><tspan x="55">8</tspan><tspan x="72">16</tspan><tspan x="95">15</tspan><tspan x="115">91</tspan><tspan x="135">64</tspan><tspan x="152">2</tspan></text>
<text class="n" y="697"><tspan x="55">83</tspan><tspan x="72">42</tspan><tspan x="95">93</tspan><tspan x="115">75</tspan><tspan x="135">27</tspan><tspan x="152">1</tspan></text>
<text class="n" y="711"><tspan x="55">76</tspan><tspan x="72">95</tspan><tspan x="95">75</tspan><tspan x="115">81</tspan><tspan x="135">50</tspan><tspan x="152">1</tspan></text>
<text class="n" y="724"><tspan x="55">20</tspan><tspan x="72">42</tspan><tspan x="95">96</tspan><tspan x="115">90</tspan><tspan x="135">24</tspan><tspan x="152">2</tspan></text>
<text class="n" y="740"><tspan x="55">38</tspan><tspan x="72">28</tspan><tspan x="95">2</tspan><tspan x="115">15</tspan><tspan x="135">81</tspan><tspan x="152">2</tspan></text>
<text class="n" y="757"><tspan x="55">2</tspan><tspan x="73">1</tspan><tspan x="92">1</tspan><tspan x="113">1</tspan><tspan x="135">3</tspan></text>
</g>
<g id="e2">
<path class="br" d="M181,668H178V745H181M275,668H278V745H275"/>
<rect class="bl" x="198" y="670" width="18" height="14" rx="2"/>
<rect class="bl" x="260" y="686" width="18" height="14" rx="2"/>
<rect class="bx" x="260" y="700" width="18" height="14" rx="2"/>
<rect class="bl" x="220" y="729" width="20" height="14" rx="2"/>
<rect class="bx" x="240" y="729" width="18" height="14" rx="2"/>
<text class="n" y="681"><tspan x="187">8</tspan><tspan x="207">16</tspan><tspan x="228">15</tspan><tspan x="248">91</tspan><tspan x="269">64</tspan><tspan x="286">1</tspan></text>
<text class="n" y="697"><tspan x="187">83</tspan><tspan x="207">42</tspan><tspan x="228">93</tspan><tspan x="248">75</tspan><tspan x="269">27</tspan><tspan x="286">1</tspan></text>
<text class="n" y="711"><tspan x="187">76</tspan><tspan x="207">95</tspan><tspan x="228">75</tspan><tspan x="248">81</tspan><tspan x="269">50</tspan><tspan x="286">1</tspan></text>
<text class="n" y="724"><tspan x="187">20</tspan><tspan x="207">42</tspan><tspan x="228">96</tspan><tspan x="248">90</tspan><tspan x="269">24</tspan><tspan x="286">0</tspan></text>
<text class="n" y="740"><tspan x="187">38</tspan><tspan x="207">28</tspan><tspan x="230">2</tspan><tspan x="249">15</tspan><tspan x="269">81</tspan><tspan x="287">2</tspan></text>
<text class="n" y="757"><tspan x="187">0</tspan><tspan x="208">1</tspan><tspan x="228">1</tspan><tspan x="248">1</tspan><tspan x="269">2</tspan></text>
</g>
<g id="e3">
<path class="br" d="M311,668H308V745H311M402,668H405V745H402"/>
<rect class="bx" x="328" y="670" width="18" height="14" rx="3"/>
<rect class="bx" x="388" y="686" width="18" height="14" rx="2"/>
<rect class="gr" x="308" y="699" width="18" height="29" rx="3"/>
<rect class="gr" x="368" y="699" width="18" height="29" rx="3"/>
<rect class="bx" x="348.5" y="729" width="15" height="14" rx="2"/>
<ellipse class="cb" cx="412" cy="707" rx="7.5" ry="6.5"/><ellipse class="cb" cx="412" cy="720" rx="7.5" ry="6.5"/>
<ellipse class="cb" cx="317" cy="753" rx="7.5" ry="6.5"/><ellipse class="cb" cx="377" cy="753" rx="7.5" ry="6.5"/>
<text class="n" y="681"><tspan x="317">8</tspan><tspan x="337">16</tspan><tspan x="356">15</tspan><tspan x="377">91</tspan><tspan x="397">64</tspan><tspan x="412">1</tspan></text>
<text class="n" y="697"><tspan x="317">83</tspan><tspan x="337">42</tspan><tspan x="356">93</tspan><tspan x="377">75</tspan><tspan x="397">27</tspan><tspan x="412">1</tspan></text>
<text class="n" y="711"><tspan x="317">76</tspan><tspan x="337">95</tspan><tspan x="356">75</tspan><tspan x="377">81</tspan><tspan x="397">50</tspan><tspan x="412">0</tspan></text>
<text class="n" y="724"><tspan x="317">20</tspan><tspan x="337">42</tspan><tspan x="356">96</tspan><tspan x="377">90</tspan><tspan x="397">24</tspan><tspan x="412">0</tspan></text>
<text class="n" y="740"><tspan x="317">38</tspan><tspan x="337">28</tspan><tspan x="356">2</tspan><tspan x="377">15</tspan><tspan x="397">81</tspan><tspan x="412">1</tspan></text>
<text class="n" y="757"><tspan x="317">0</tspan><tspan x="337">1</tspan><tspan x="356">1</tspan><tspan x="377">0</tspan><tspan x="397">1</tspan></text>
</g>
<g id="e4">
<path class="br" d="M437,667H434V697H437M470,667H473V697H470"/>
<circle class="ci" cx="445" cy="675" r="8"/>
<rect class="db" x="454" y="668" width="18" height="14"/><rect class="db" x="456" y="668" width="14" height="14"/>
<rect class="db" x="436" y="682" width="18" height="14"/><rect class="db" x="438" y="682" width="14" height="14"/>
<ellipse class="cb" cx="484" cy="689" rx="7.5" ry="6.5"/>
<ellipse class="cb" cx="465" cy="704" rx="7.5" ry="6.5"/>
<text class="n" y="679"><tspan x="445">76</tspan><tspan x="463">81</tspan><tspan x="484">2</tspan></text>
<text class="n" y="693"><tspan x="445">20</tspan><tspan x="463">90</tspan><tspan x="484">1</tspan></text>
<text class="n" y="708"><tspan x="442">2</tspan><tspan x="465">1</tspan></text>
</g>
<g id="e5">
<path class="br" d="M437,721H434V753H437M469,721H472V753H469"/>
<rect class="bl" x="453" y="722" width="18" height="14" rx="2"/>
<rect class="bl" x="433" y="738" width="18" height="14" rx="2"/>
<text class="n" y="733"><tspan x="442">76</tspan><tspan x="462">81</tspan><tspan x="479">1</tspan></text>
<text class="n" y="749"><tspan x="442">20</tspan><tspan x="462">90</tspan><tspan x="479">1</tspan></text>
<text class="n" y="761"><tspan x="439">1</tspan><tspan x="459">1</tspan></text>
</g>
<g id="e6">
<path class="br" d="M378,779H375V864H378M480,779H483V864H480"/>
<text class="bd" x="372" y="792">-1</text><text class="bd" x="372" y="810">+15</text><text class="bd" x="372" y="827">-31</text><text class="bd" x="372" y="859">+13</text>
<rect class="bx" x="396" y="781" width="18" height="14" rx="3"/>
<rect class="bl" x="419" y="781" width="18" height="14" rx="2"/>
<rect class="bl" x="396" y="799" width="18" height="14" rx="2"/>
<rect class="bx" x="464" y="799" width="18" height="14" rx="2"/>
<rect class="gd" x="441" y="816" width="18" height="14"/>
<rect class="bl" x="464" y="816" width="18" height="14" rx="2"/>
<rect class="bx" x="373" y="829" width="18" height="14" rx="3"/>
<rect class="bx" x="420.5" y="848" width="15" height="14" rx="2"/>
<rect class="bl" x="441" y="848" width="18" height="14" rx="2"/>
<text class="n" y="792"><tspan x="382">8</tspan><tspan x="405">16</tspan><tspan x="428">15</tspan><tspan x="450">91</tspan><tspan x="473">64</tspan><tspan x="490">1</tspan></text>
<text class="n" y="810"><tspan x="382">83</tspan><tspan x="405">42</tspan><tspan x="428">93</tspan><tspan x="450">75</tspan><tspan x="473">27</tspan><tspan x="490">1</tspan></text>
<text class="n" y="827"><tspan x="382">76</tspan><tspan x="405">95</tspan><tspan x="428">75</tspan><tspan x="450">81</tspan><tspan x="473">50</tspan><tspan x="490">1</tspan></text>
<text class="n" y="840"><tspan x="382">20</tspan><tspan x="405">42</tspan><tspan x="428">96</tspan><tspan x="450">90</tspan><tspan x="473">24</tspan><tspan x="490">1</tspan></text>
<text class="n" y="859"><tspan x="382">38</tspan><tspan x="405">28</tspan><tspan x="428">2</tspan><tspan x="450">15</tspan><tspan x="473">81</tspan><tspan x="490">1</tspan></text>
<text class="n" y="876"><tspan x="380">1</tspan><tspan x="402">1</tspan><tspan x="423">1</tspan><tspan x="448">1</tspan><tspan x="472">1</tspan></text>
<text class="sm" x="402" y="887">81 ≠(<tspan class="sb" dy="1.5">min</tspan><tspan class="it" dy="-1.5">c</tspan><tspan class="sb" dy="1.5">i</tspan><tspan dy="-1.5">, </tspan><tspan class="sb" dy="1.5">min</tspan><tspan class="it" dy="-1.5">c</tspan><tspan class="sb" dy="1.5">j</tspan><tspan dy="-1.5">)</tspan></text>
</g>
<g id="e7">
<path class="br" d="M222,783H219V867H222M325,783H328V867H325"/>
<rect class="bl" x="264" y="785" width="18" height="14" rx="2"/>
<rect class="bl" x="241" y="803" width="18" height="14" rx="2"/>
<rect class="bl" x="309" y="820" width="18" height="14" rx="2"/>
<rect class="bl" x="219" y="833" width="18" height="14" rx="2"/>
<rect class="bl" x="286" y="851" width="18" height="14" rx="2"/>
<text class="n" y="796" font-size="12"><tspan x="228">8</tspan><tspan x="250">16</tspan><tspan x="273">15</tspan><tspan x="295">91</tspan><tspan x="318">64</tspan></text>
<text class="n" y="814" font-size="12"><tspan x="228">83</tspan><tspan x="250">42</tspan><tspan x="273">93</tspan><tspan x="295">75</tspan><tspan x="318">27</tspan></text>
<text class="n" y="831" font-size="12"><tspan x="228">76</tspan><tspan x="250">95</tspan><tspan x="273">75</tspan><tspan x="295">81</tspan><tspan x="318">50</tspan></text>
<text class="n" y="844" font-size="12"><tspan x="228">20</tspan><tspan x="250">42</tspan><tspan x="273">96</tspan><tspan x="295">90</tspan><tspan x="318">24</tspan></text>
<text class="n" y="862" font-size="12"><tspan x="228">38</tspan><tspan x="250">28</tspan><tspan x="273">2</tspan><tspan x="295">15</tspan><tspan x="318">81</tspan></text>
<text class="zt" x="178" y="880"><tspan class="it">z</tspan> = 20 + 42 + 15 + 15 + 50 = 142</text>
</g>
<g id="cape"><text class="cap" y="908"><tspan x="190">(e)</tspan><tspan class="bi" x="226">B</tspan><tspan class="bs" dy="3">20</tspan><tspan x="257" dy="-3">할당 문제</tspan></text></g>
</g>

<!-- ========== (f) ========== -->
<g id="pf">
<g id="f1">
<path class="br" d="M49,928H46V1017H49M158,928H161V1017H158"/>
<circle class="ci" cx="125" cy="938" r="9.5"/>
<rect class="bx" x="69.5" y="949" width="21" height="16" rx="2"/>
<rect class="bx" x="92.5" y="949" width="21" height="16" rx="2"/>
<rect class="db" x="114.5" y="949" width="21" height="16"/><rect class="db" x="116.5" y="949" width="17" height="16"/>
<circle class="ci" cx="125" cy="975" r="9.5"/>
<rect class="bx" x="139.5" y="967" width="21" height="16" rx="2"/>
<rect class="db" x="43" y="981" width="23" height="16"/><rect class="db" x="46" y="981" width="18" height="16"/>
<circle class="ci" cx="57" cy="1007" r="9.5"/>
<ellipse class="cb" cx="170" cy="938" rx="7.5" ry="7.5"/><ellipse class="cb" cx="170" cy="989" rx="7.5" ry="7.5"/><ellipse class="cb" cx="170" cy="1007" rx="7.5" ry="7.5"/>
<ellipse class="cb" cx="81" cy="1025" rx="7.5" ry="7.5"/><ellipse class="cb" cx="100" cy="1025" rx="7.5" ry="7.5"/><ellipse class="cb" cx="150" cy="1025" rx="7.5" ry="7.5"/>
<text class="lb" x="167" y="922">s<tspan class="sb" dy="3">i</tspan></text>
<text class="lb" x="25" y="1030" font-size="13">s<tspan class="sb" dy="3">j</tspan><tspan dy="-3" font-style="normal"> :</tspan></text>
<text class="n" y="943"><tspan x="57">30</tspan><tspan x="80">37</tspan><tspan x="103">40</tspan><tspan x="125">28</tspan><tspan x="150">40</tspan><tspan x="170">1</tspan></text>
<text class="n" y="962"><tspan x="57">40</tspan><tspan x="80">24</tspan><tspan x="103">27</tspan><tspan x="125">21</tspan><tspan x="150">36</tspan><tspan x="170">3</tspan></text>
<text class="n" y="980"><tspan x="57">40</tspan><tspan x="80">32</tspan><tspan x="103">33</tspan><tspan x="125">30</tspan><tspan x="150">35</tspan><tspan x="170">2</tspan></text>
<text class="n" y="994"><tspan x="57">25</tspan><tspan x="80">38</tspan><tspan x="103">40</tspan><tspan x="125">36</tspan><tspan x="150">36</tspan><tspan x="170">1</tspan></text>
<text class="n" y="1012"><tspan x="57">29</tspan><tspan x="80">62</tspan><tspan x="103">41</tspan><tspan x="125">34</tspan><tspan x="150">39</tspan><tspan x="170">1</tspan></text>
<text class="n" y="1030"><tspan x="53">2</tspan><tspan x="81">1</tspan><tspan x="100">1</tspan><tspan x="125">3</tspan><tspan x="150">1</tspan></text>
</g>
<g id="f2">
<path class="br" d="M203,928H200V1017H203M312,928H315V1017H312"/>
<rect class="bl" x="271.5" y="930" width="21" height="16" rx="2"/>
<rect class="bl" x="224.5" y="949" width="21" height="16" rx="2"/>
<rect class="bx" x="247.5" y="949" width="21" height="16" rx="2"/>
<rect class="bl" x="294.5" y="967" width="21" height="16" rx="2"/>
<rect class="bl" x="201.5" y="981" width="21" height="16" rx="2"/>
<rect class="bx" x="201.5" y="999" width="21" height="16" rx="2"/>
<text class="n" y="943"><tspan x="212">30</tspan><tspan x="235">37</tspan><tspan x="258">40</tspan><tspan x="282">28</tspan><tspan x="305">40</tspan><tspan x="323">1</tspan></text>
<text class="n" y="962"><tspan x="212">40</tspan><tspan x="235">24</tspan><tspan x="258">27</tspan><tspan x="282">21</tspan><tspan x="305">36</tspan><tspan x="323">2</tspan></text>
<text class="n" y="980"><tspan x="212">40</tspan><tspan x="235">32</tspan><tspan x="258">33</tspan><tspan x="282">30</tspan><tspan x="305">35</tspan><tspan x="323">1</tspan></text>
<text class="n" y="994"><tspan x="212">25</tspan><tspan x="235">38</tspan><tspan x="258">40</tspan><tspan x="282">36</tspan><tspan x="305">36</tspan><tspan x="323">1</tspan></text>
<text class="n" y="1012"><tspan x="212">29</tspan><tspan x="235">62</tspan><tspan x="258">41</tspan><tspan x="282">34</tspan><tspan x="305">39</tspan><tspan x="323">1</tspan></text>
<text class="n" y="1030"><tspan x="210">2</tspan><tspan x="235">1</tspan><tspan x="258">1</tspan><tspan x="282">1</tspan><tspan x="305">1</tspan></text>
</g>
<g id="f3">
<path class="br" d="M349,928H346V1017H349M457,928H460V1017H457"/>
<rect class="bx" x="414.5" y="930" width="21" height="16" rx="2"/>
<rect class="bx" x="367.5" y="949" width="21" height="16" rx="2"/>
<rect class="bx" x="439.5" y="967" width="21" height="16" rx="2"/>
<rect class="bx" x="346.5" y="981" width="21" height="16" rx="2"/>
<rect class="gr" x="391.5" y="999" width="21" height="16" rx="2"/>
<ellipse class="cb" cx="468" cy="1007" rx="7.5" ry="7.5"/>
<ellipse class="cb" cx="402" cy="1025" rx="7.5" ry="7.5"/>
<text class="n" y="943"><tspan x="357">30</tspan><tspan x="378">37</tspan><tspan x="402">40</tspan><tspan x="425">28</tspan><tspan x="450">40</tspan><tspan x="468">1</tspan></text>
<text class="n" y="962"><tspan x="357">40</tspan><tspan x="378">24</tspan><tspan x="402">27</tspan><tspan x="425">21</tspan><tspan x="450">36</tspan><tspan x="468">1</tspan></text>
<text class="n" y="980"><tspan x="357">40</tspan><tspan x="378">32</tspan><tspan x="402">33</tspan><tspan x="425">30</tspan><tspan x="450">35</tspan><tspan x="468">1</tspan></text>
<text class="n" y="994"><tspan x="357">25</tspan><tspan x="378">38</tspan><tspan x="402">40</tspan><tspan x="425">36</tspan><tspan x="450">36</tspan><tspan x="468">1</tspan></text>
<text class="n" y="1012"><tspan x="357">29</tspan><tspan x="378">62</tspan><tspan x="402">41</tspan><tspan x="425">34</tspan><tspan x="450">39</tspan><tspan x="468">0</tspan></text>
<text class="n" y="1030"><tspan x="355">1</tspan><tspan x="377">1</tspan><tspan x="402">0</tspan><tspan x="425">1</tspan><tspan x="450">1</tspan></text>
<text class="mt" x="328" y="1044"><tspan class="it">s</tspan><tspan class="sb" dy="2">i</tspan><tspan dy="-2"> = 0, </tspan><tspan class="it">s</tspan><tspan class="sb" dy="2">j</tspan><tspan dy="-2"> = 0⇒ 41 ≠(</tspan><tspan class="sb" dy="2">min</tspan><tspan class="it" dy="-2">c</tspan><tspan class="sb" dy="2">i</tspan><tspan dy="-2">, </tspan><tspan class="sb" dy="2">min</tspan><tspan class="it" dy="-2">c</tspan><tspan class="sb" dy="2">j</tspan><tspan dy="-2">)</tspan></text>
</g>
<g id="f4">
<path class="br" d="M366,1057H363V1146H366M474,1057H477V1146H474"/>
<text class="bd" x="496" y="1108">-2</text><text class="bd" x="496" y="1141">-2</text>
<rect class="bl" x="431.5" y="1059" width="21" height="16" rx="2"/>
<rect class="bl" x="384.5" y="1077" width="21" height="16" rx="2"/>
<rect class="bl" x="407.5" y="1095" width="21" height="16" rx="2"/>
<rect class="dt" x="456.5" y="1095" width="21" height="16"/>
<rect class="bl" x="362.5" y="1110" width="21" height="15" rx="2"/>
<rect class="dt" x="407.5" y="1128" width="21" height="16"/>
<rect class="bl" x="456.5" y="1128" width="21" height="16" rx="2"/>
<text class="n" y="1072"><tspan x="373">30</tspan><tspan x="395">37</tspan><tspan x="418">40</tspan><tspan x="442">28</tspan><tspan x="467">40</tspan></text>
<text class="n" y="1090"><tspan x="373">40</tspan><tspan x="395">24</tspan><tspan x="418">27</tspan><tspan x="442">21</tspan><tspan x="467">36</tspan></text>
<text class="n" y="1108"><tspan x="373">40</tspan><tspan x="395">32</tspan><tspan x="418">33</tspan><tspan x="442">30</tspan><tspan x="467">35</tspan></text>
<text class="n" y="1122"><tspan x="373">25</tspan><tspan x="395">38</tspan><tspan x="418">40</tspan><tspan x="442">36</tspan><tspan x="467">36</tspan></text>
<text class="n" y="1141"><tspan x="373">29</tspan><tspan x="395">62</tspan><tspan x="418">41</tspan><tspan x="442">34</tspan><tspan x="467">39</tspan></text>
</g>
<g id="f5">
<path class="br" d="M230,1057H227V1146H230M340,1057H343V1146H340"/>
<rect class="bl" x="297.5" y="1059" width="21" height="16" rx="2"/>
<rect class="bl" x="250.5" y="1077" width="21" height="16" rx="2"/>
<rect class="bl" x="274.5" y="1095" width="21" height="16" rx="2"/>
<rect class="bl" x="226.5" y="1110" width="21" height="15" rx="2"/>
<rect class="bl" x="321.5" y="1128" width="21" height="16" rx="2"/>
<text class="n" y="1072"><tspan x="237">30</tspan><tspan x="261">37</tspan><tspan x="285">40</tspan><tspan x="308">28</tspan><tspan x="332">40</tspan></text>
<text class="n" y="1090"><tspan x="237">40</tspan><tspan x="261">24</tspan><tspan x="285">27</tspan><tspan x="308">21</tspan><tspan x="332">36</tspan></text>
<text class="n" y="1108"><tspan x="237">40</tspan><tspan x="261">32</tspan><tspan x="285">33</tspan><tspan x="308">30</tspan><tspan x="332">35</tspan></text>
<text class="n" y="1122"><tspan x="237">25</tspan><tspan x="261">38</tspan><tspan x="285">40</tspan><tspan x="308">36</tspan><tspan x="332">36</tspan></text>
<text class="n" y="1141"><tspan x="237">29</tspan><tspan x="261">62</tspan><tspan x="285">41</tspan><tspan x="308">34</tspan><tspan x="332">39</tspan></text>
<text class="zt" x="58" y="1141" font-size="14"><tspan class="it">z</tspan> = 25 + 24 + 33 + 28 + 39 = 149</text>
</g>
<g id="capf"><text class="cap" y="1173"><tspan x="190">(f)</tspan><tspan class="bi" x="226">B</tspan><tspan class="bs" dy="3">21</tspan><tspan x="257" dy="-3">할당 문제</tspan></text></g>
</g>

<!-- ========== (g) ========== -->
<g id="pg">
<g id="g1">
<path class="br" d="M27,1194H24V1278H27M129,1194H132V1278H129"/>
<circle class="ci" cx="99" cy="1203" r="8"/>
<rect class="db" x="68" y="1215" width="18" height="14"/><rect class="db" x="70" y="1215" width="14" height="14"/>
<circle class="ci" cx="77" cy="1237" r="9"/>
<rect class="bx" x="24" y="1245" width="18" height="14" rx="2"/>
<rect class="bx" x="47" y="1245" width="18" height="14" rx="2"/>
<rect class="db" x="90" y="1245" width="18" height="14"/><rect class="db" x="92" y="1245" width="14" height="14"/>
<rect class="bx" x="113" y="1245" width="18" height="14" rx="2"/>
<circle class="ci" cx="122" cy="1267" r="8"/>
<ellipse class="cb" cx="144" cy="1203" rx="7.5" ry="6.5"/><ellipse class="cb" cx="144" cy="1222" rx="7.5" ry="6.5"/><ellipse class="cb" cx="144" cy="1238" rx="7.5" ry="6.5"/><ellipse class="cb" cx="144" cy="1269" rx="7.5" ry="6.5"/>
<ellipse class="cb" cx="33" cy="1287" rx="7.5" ry="6.5"/><ellipse class="cb" cx="53" cy="1287" rx="7.5" ry="6.5"/>
<text class="lb" x="139" y="1189">s<tspan class="sb" dy="3">i</tspan></text>
<text class="lb" x="4" y="1291">s<tspan class="sb" dy="3">j</tspan><tspan dy="-3" font-style="normal"> :</tspan></text>
<text class="n" y="1207"><tspan x="33">40</tspan><tspan x="56">40</tspan><tspan x="77">35</tspan><tspan x="99">25</tspan><tspan x="122">50</tspan><tspan x="144">1</tspan></text>
<text class="n" y="1226"><tspan x="33">42</tspan><tspan x="56">30</tspan><tspan x="77">16</tspan><tspan x="99">25</tspan><tspan x="122">27</tspan><tspan x="144">1</tspan></text>
<text class="n" y="1242"><tspan x="33">50</tspan><tspan x="56">48</tspan><tspan x="77">40</tspan><tspan x="99">60</tspan><tspan x="122">50</tspan><tspan x="144">1</tspan></text>
<text class="n" y="1256"><tspan x="33">20</tspan><tspan x="56">19</tspan><tspan x="77">20</tspan><tspan x="99">18</tspan><tspan x="122">25</tspan><tspan x="144">4</tspan></text>
<text class="n" y="1273"><tspan x="33">58</tspan><tspan x="56">60</tspan><tspan x="77">59</tspan><tspan x="99">55</tspan><tspan x="122">53</tspan><tspan x="144">1</tspan></text>
<text class="n" y="1291"><tspan x="33">1</tspan><tspan x="53">1</tspan><tspan x="74">2</tspan><tspan x="99">2</tspan><tspan x="122">2</tspan></text>
</g>
<g id="g2">
<path class="br" d="M168,1198H165V1279H168M262,1198H265V1279H262"/>
<rect class="bl" x="227" y="1200" width="18" height="14" rx="2"/>
<rect class="bl" x="204" y="1217" width="18" height="14" rx="2"/>
<rect class="bx" x="204" y="1232" width="18" height="14" rx="2"/>
<rect class="bx" x="164" y="1245" width="18" height="14" rx="2"/>
<rect class="bl" x="184" y="1245" width="18" height="14" rx="2"/>
<rect class="bl" x="247" y="1263" width="18" height="14" rx="2"/>
<text class="n" y="1211"><tspan x="173">40</tspan><tspan x="193">40</tspan><tspan x="213">35</tspan><tspan x="236">25</tspan><tspan x="256">50</tspan><tspan x="274">1</tspan></text>
<text class="n" y="1228"><tspan x="173">42</tspan><tspan x="193">30</tspan><tspan x="213">16</tspan><tspan x="236">25</tspan><tspan x="256">27</tspan><tspan x="274">1</tspan></text>
<text class="n" y="1243"><tspan x="173">50</tspan><tspan x="193">48</tspan><tspan x="213">40</tspan><tspan x="236">60</tspan><tspan x="256">50</tspan><tspan x="274">1</tspan></text>
<text class="n" y="1256"><tspan x="173">20</tspan><tspan x="193">19</tspan><tspan x="213">20</tspan><tspan x="236">18</tspan><tspan x="256">25</tspan><tspan x="274">2</tspan></text>
<text class="n" y="1274"><tspan x="173">58</tspan><tspan x="193">60</tspan><tspan x="213">59</tspan><tspan x="236">55</tspan><tspan x="256">53</tspan><tspan x="274">1</tspan></text>
<text class="n" y="1286"><tspan x="172">1</tspan><tspan x="193">1</tspan><tspan x="213">2</tspan><tspan x="235">1</tspan><tspan x="257">1</tspan></text>
</g>
<g id="g3">
<path class="br" d="M294,1194H291V1272H294M386,1194H389V1272H386"/>
<rect class="bx" x="351" y="1196" width="18" height="14" rx="2"/>
<rect class="bx" x="332" y="1212" width="18" height="14" rx="2"/>
<rect class="gd" x="291" y="1227" width="18" height="14"/>
<rect class="bl" x="311" y="1227" width="18" height="14" rx="2"/>
<rect class="bl" x="291" y="1241" width="18" height="14" rx="2"/>
<rect class="dt" x="311" y="1241" width="18" height="14"/>
<rect class="bx" x="373" y="1256" width="18" height="14" rx="2"/>
<ellipse class="cb" cx="397" cy="1234" rx="7.5" ry="6.5"/>
<ellipse class="cb" cx="300" cy="1277" rx="7.5" ry="6.5"/>
<text class="n" y="1207"><tspan x="300">40</tspan><tspan x="320">40</tspan><tspan x="341">35</tspan><tspan x="360">25</tspan><tspan x="382">50</tspan><tspan x="397">1</tspan></text>
<text class="n" y="1223"><tspan x="300">42</tspan><tspan x="320">30</tspan><tspan x="341">16</tspan><tspan x="360">25</tspan><tspan x="382">27</tspan><tspan x="397">1</tspan></text>
<text class="n" y="1238"><tspan x="300">50</tspan><tspan x="320">48</tspan><tspan x="341">40</tspan><tspan x="360">60</tspan><tspan x="382">50</tspan><tspan x="397">0</tspan></text>
<text class="n" y="1252"><tspan x="300">20</tspan><tspan x="320">19</tspan><tspan x="341">20</tspan><tspan x="360">18</tspan><tspan x="382">25</tspan><tspan x="397">1</tspan></text>
<text class="n" y="1267"><tspan x="300">58</tspan><tspan x="320">60</tspan><tspan x="341">59</tspan><tspan x="360">55</tspan><tspan x="382">53</tspan><tspan x="397">1</tspan></text>
<text class="n" y="1281"><tspan x="300">0</tspan><tspan x="321">1</tspan><tspan x="341">1</tspan><tspan x="362">1</tspan><tspan x="383">1</tspan></text>
<text class="mt" x="272" y="1191"><tspan class="it">s</tspan><tspan class="sb" dy="2">i</tspan><tspan dy="-2"> = 0, </tspan><tspan class="it">s</tspan><tspan class="sb" dy="2">j</tspan><tspan dy="-2"> = 0⇒ 50 ≠(</tspan><tspan class="sb" dy="2">min</tspan><tspan class="it" dy="-2">c</tspan><tspan class="sb" dy="2">i</tspan><tspan dy="-2">, </tspan><tspan class="sb" dy="2">min</tspan><tspan class="it" dy="-2">c</tspan><tspan class="sb" dy="2">j</tspan><tspan dy="-2">)</tspan></text>
</g>
<g id="g4">
<path class="br" d="M420,1198H417V1277H420"/>
<rect class="bl" x="478" y="1200" width="18" height="14" rx="2"/>
<rect class="bl" x="456" y="1216" width="18" height="14" rx="2"/>
<rect class="bl" x="436" y="1231" width="18" height="14" rx="2"/>
<rect class="bl" x="416" y="1245" width="18" height="14" rx="2"/>
<rect class="bl" x="498" y="1261" width="18" height="14" rx="2"/>
<text class="n" y="1211"><tspan x="425">40</tspan><tspan x="445">40</tspan><tspan x="465">35</tspan><tspan x="487">25</tspan><tspan x="507">50</tspan></text>
<text class="n" y="1227"><tspan x="425">42</tspan><tspan x="445">30</tspan><tspan x="465">16</tspan><tspan x="487">25</tspan><tspan x="507">27</tspan></text>
<text class="n" y="1242"><tspan x="425">50</tspan><tspan x="445">48</tspan><tspan x="465">40</tspan><tspan x="487">60</tspan><tspan x="507">50</tspan></text>
<text class="n" y="1256"><tspan x="425">20</tspan><tspan x="445">19</tspan><tspan x="465">20</tspan><tspan x="487">18</tspan><tspan x="507">25</tspan></text>
<text class="n" y="1272"><tspan x="425">58</tspan><tspan x="445">60</tspan><tspan x="465">59</tspan><tspan x="487">55</tspan><tspan x="507">53</tspan></text>
<text class="mt" x="375" y="1294"><tspan class="it">z</tspan> = 20 + 48 + 16 + 25 + 53 = 16</text>
</g>
<g id="capg"><text class="cap" y="1313"><tspan x="190">(g)</tspan><tspan class="bi" x="226">B</tspan><tspan class="bs" dy="3">22</tspan><tspan x="257" dy="-3">할당 문제</tspan></text></g>
</g>

<!-- ========== (h) ========== -->
<g id="ph">
<g id="h1">
<path class="br" d="M30,1336H27V1411H30M117,1336H120V1411H117"/>
<rect class="bx" x="26" y="1339" width="18" height="12" rx="2"/>
<rect class="db" x="84" y="1339" width="18" height="12"/><rect class="db" x="86" y="1339" width="14" height="12"/>
<circle class="ci" cx="93" cy="1359" r="7.5"/>
<rect class="dk" x="65" y="1369" width="18" height="12"/><rect class="db" x="67" y="1369" width="14" height="12"/>
<rect class="db" x="104" y="1369" width="18" height="12"/><rect class="db" x="106" y="1369" width="14" height="12"/>
<rect class="bx" x="46" y="1380" width="18" height="12" rx="2"/>
<circle class="ci" cx="93" cy="1386" r="7.5"/>
<circle class="ci" cx="35" cy="1402" r="8"/>
<ellipse class="cb" cx="130" cy="1359" rx="7.5" ry="6.5"/><ellipse class="cb" cx="130" cy="1402" rx="7.5" ry="6.5"/>
<ellipse class="cb" cx="53" cy="1417" rx="7.5" ry="6.5"/><ellipse class="cb" cx="73" cy="1417" rx="7.5" ry="6.5"/><ellipse class="cb" cx="113" cy="1417" rx="7.5" ry="6.5"/>
<text class="lb" x="125" y="1333">s<tspan class="sb" dy="3">i</tspan></text>
<text class="lb" x="4" y="1421">s<tspan class="sb" dy="3">j</tspan><tspan dy="-3" font-style="normal"> :</tspan></text>
<text class="n" y="1349"><tspan x="35">22</tspan><tspan x="55">30</tspan><tspan x="74">26</tspan><tspan x="93">16</tspan><tspan x="113">25</tspan><tspan x="130">2</tspan></text>
<text class="n" y="1363"><tspan x="35">27</tspan><tspan x="55">29</tspan><tspan x="74">28</tspan><tspan x="93">20</tspan><tspan x="113">32</tspan><tspan x="130">1</tspan></text>
<text class="n" y="1379"><tspan x="35">33</tspan><tspan x="55">25</tspan><tspan x="74">21</tspan><tspan x="93">29</tspan><tspan x="113">23</tspan><tspan x="130">2</tspan></text>
<text class="n" y="1390"><tspan x="35">24</tspan><tspan x="55">24</tspan><tspan x="74">30</tspan><tspan x="93">19</tspan><tspan x="113">26</tspan><tspan x="130">2</tspan></text>
<text class="n" y="1406"><tspan x="35">30</tspan><tspan x="55">33</tspan><tspan x="74">32</tspan><tspan x="93">37</tspan><tspan x="113">31</tspan><tspan x="130">1</tspan></text>
<text class="n" y="1421"><tspan x="32">2</tspan><tspan x="53">1</tspan><tspan x="73">1</tspan><tspan x="93">3</tspan><tspan x="113">1</tspan></text>
</g>
<g id="h2">
<path class="br" d="M155,1336H152V1411H155M245,1336H248V1411H245"/>
<rect class="bl" x="211" y="1353" width="18" height="12" rx="2"/>
<rect class="bl" x="191" y="1369" width="18" height="12" rx="2"/>
<rect class="bx" x="231" y="1369" width="18" height="12" rx="2"/>
<rect class="bl" x="171" y="1380" width="18" height="12" rx="2"/>
<rect class="bl" x="153" y="1396" width="18" height="12" rx="2"/>
<text class="n" y="1349"><tspan x="162">22</tspan><tspan x="180">30</tspan><tspan x="200">26</tspan><tspan x="220">16</tspan><tspan x="240">25</tspan><tspan x="258">0</tspan></text>
<text class="n" y="1363"><tspan x="162">27</tspan><tspan x="180">29</tspan><tspan x="200">28</tspan><tspan x="220">20</tspan><tspan x="240">32</tspan><tspan x="258">1</tspan></text>
<text class="n" y="1379"><tspan x="162">33</tspan><tspan x="180">25</tspan><tspan x="200">21</tspan><tspan x="220">29</tspan><tspan x="240">23</tspan><tspan x="258">2</tspan></text>
<text class="n" y="1390"><tspan x="162">24</tspan><tspan x="180">24</tspan><tspan x="200">30</tspan><tspan x="220">19</tspan><tspan x="240">26</tspan><tspan x="258">1</tspan></text>
<text class="n" y="1406"><tspan x="162">30</tspan><tspan x="180">33</tspan><tspan x="200">32</tspan><tspan x="220">37</tspan><tspan x="240">31</tspan><tspan x="258">1</tspan></text>
<text class="n" y="1421"><tspan x="162">1</tspan><tspan x="180">1</tspan><tspan x="200">1</tspan><tspan x="220">1</tspan><tspan x="240">1</tspan></text>
<text class="mt" x="155" y="1432"><tspan class="it">s</tspan><tspan class="sb" dy="2">i</tspan><tspan dy="-2"> ≥ 2⇒ </tspan><tspan class="it">Select</tspan><tspan class="sb" dy="2"> min</tspan><tspan class="it" dy="-2">c</tspan><tspan class="sb" dy="2">i</tspan></text>
</g>
<g id="h3">
<path class="br" d="M286,1336H283V1411H286M378,1336H381V1411H378"/>
<text class="bd" x="286" y="1349">-3</text><text class="bd" x="286" y="1406">+1</text>
<rect class="bl" x="284" y="1339" width="18" height="12" rx="2"/>
<rect class="gd" x="363" y="1339" width="18" height="12"/>
<rect class="bx" x="344" y="1353" width="18" height="12" rx="2"/>
<rect class="bx" x="324" y="1369" width="18" height="12" rx="2"/>
<rect class="bx" x="304" y="1380" width="18" height="12" rx="2"/>
<rect class="dt" x="284" y="1396" width="18" height="12"/>
<rect class="bl" x="363" y="1396" width="18" height="12" rx="2"/>
<ellipse class="cb" cx="390" cy="1345" rx="7.5" ry="6.5"/>
<ellipse class="cb" cx="372" cy="1417" rx="7.5" ry="6.5"/>
<text class="n" y="1349"><tspan x="293">22</tspan><tspan x="313">30</tspan><tspan x="333">26</tspan><tspan x="353">16</tspan><tspan x="372">25</tspan><tspan x="390">0</tspan></text>
<text class="n" y="1363"><tspan x="293">27</tspan><tspan x="313">29</tspan><tspan x="333">28</tspan><tspan x="353">20</tspan><tspan x="372">32</tspan><tspan x="390">1</tspan></text>
<text class="n" y="1379"><tspan x="293">33</tspan><tspan x="313">25</tspan><tspan x="333">21</tspan><tspan x="353">29</tspan><tspan x="372">23</tspan><tspan x="390">1</tspan></text>
<text class="n" y="1390"><tspan x="293">24</tspan><tspan x="313">24</tspan><tspan x="333">30</tspan><tspan x="353">19</tspan><tspan x="372">26</tspan><tspan x="390">1</tspan></text>
<text class="n" y="1406"><tspan x="293">30</tspan><tspan x="313">33</tspan><tspan x="333">32</tspan><tspan x="353">37</tspan><tspan x="372">31</tspan><tspan x="390">1</tspan></text>
<text class="n" y="1421"><tspan x="293">1</tspan><tspan x="313">1</tspan><tspan x="333">1</tspan><tspan x="353">1</tspan><tspan x="372">0</tspan></text>
<text class="mt" x="267" y="1432"><tspan class="it">s</tspan><tspan class="sb" dy="2">i</tspan><tspan dy="-2"> = 0, </tspan><tspan class="it">s</tspan><tspan class="sb" dy="2">j</tspan><tspan dy="-2"> = 0⇒ 25 ≠(</tspan><tspan class="sb" dy="2">min</tspan><tspan class="it" dy="-2">c</tspan><tspan class="sb" dy="2">i</tspan><tspan dy="-2">, </tspan><tspan class="sb" dy="2">min</tspan><tspan class="it" dy="-2">c</tspan><tspan class="sb" dy="2">j</tspan><tspan dy="-2">)</tspan></text>
</g>
<g id="h4">
<path class="br" d="M412,1336H409V1411H412M505,1336H508V1411H505"/>
<rect class="bl" x="410" y="1339" width="18" height="12" rx="2"/>
<rect class="bl" x="471" y="1353" width="18" height="12" rx="2"/>
<rect class="bl" x="449" y="1369" width="18" height="12" rx="2"/>
<rect class="bl" x="429" y="1380" width="18" height="12" rx="2"/>
<rect class="bl" x="491" y="1396" width="18" height="12" rx="2"/>
<text class="n" y="1349"><tspan x="419">22</tspan><tspan x="438">30</tspan><tspan x="458">26</tspan><tspan x="480">16</tspan><tspan x="500">25</tspan></text>
<text class="n" y="1363"><tspan x="419">27</tspan><tspan x="438">29</tspan><tspan x="458">28</tspan><tspan x="480">20</tspan><tspan x="500">32</tspan></text>
<text class="n" y="1379"><tspan x="419">33</tspan><tspan x="438">25</tspan><tspan x="458">21</tspan><tspan x="480">29</tspan><tspan x="500">23</tspan></text>
<text class="n" y="1390"><tspan x="419">24</tspan><tspan x="438">24</tspan><tspan x="458">30</tspan><tspan x="480">19</tspan><tspan x="500">26</tspan></text>
<text class="n" y="1406"><tspan x="419">30</tspan><tspan x="438">33</tspan><tspan x="458">32</tspan><tspan x="480">37</tspan><tspan x="500">31</tspan></text>
<text class="n" y="1421"><tspan x="419">1</tspan><tspan x="438">1</tspan><tspan x="458">1</tspan><tspan x="480">1</tspan><tspan x="500">1</tspan></text>
<text class="mt" x="380" y="1333"><tspan class="it">z</tspan> = 22 + 24 + 21 + 20 + 31 = 118</text>
</g>
<g id="caph"><text class="cap" y="1454"><tspan x="190">(h)</tspan><tspan class="bi" x="226">B</tspan><tspan class="bs" dy="3">23</tspan><tspan x="257" dy="-3">할당 문제</tspan></text></g>
</g>

<!-- ========== connectors ========== -->
<g id="connectors">
<text class="op" y="64"><tspan x="155">→</tspan><tspan x="279">→</tspan><tspan x="405">→</tspan></text>
<text class="op" y="214"><tspan x="153">→</tspan><tspan x="279">→</tspan><tspan x="405">→</tspan></text>
<text class="op" y="347"><tspan x="166">→</tspan><tspan x="286">→</tspan><tspan x="411">→</tspan></text>
<text class="op" x="448" y="395">↓</text>
<text class="op" x="414" y="431">←</text>
<text class="op" x="285" y="450">←</text>
<text class="op" x="272" y="585">→</text>
<text class="op" y="715"><tspan x="169">→</tspan><tspan x="294">→</tspan></text>
<text class="op" x="425" y="690">→</text>
<text class="op" x="457" y="719">↓</text>
<text class="op" x="460" y="776">↓</text>
<text class="op" x="338" y="834">←</text>
<text class="op" y="981"><tspan x="189">→</tspan><tspan x="334">→</tspan></text>
<text class="op" x="423" y="1059">↓</text>
<text class="op" x="353" y="1111">←</text>
<text class="op" y="1245"><tspan x="154">→</tspan><tspan x="407">→</tspan></text>
<text class="op" x="283" y="1239">→</text>
<text class="op" y="1381"><tspan x="142">→</tspan><tspan x="272">→</tspan><tspan x="398">→</tspan></text>
<path class="ar" d="M333,20 Q345,3 355,19"/>
<path class="ar" d="M361,81 Q350,61 339,80"/>
<path class="ar" d="M303,182 Q340,203 375,183"/>
<path class="ar" d="M386,224 Q345,200 306,225"/>
<path class="ar" d="M378,421 Q368,399 359,420"/>
<path class="ar" d="M356,466 Q366,443 376,465"/>
<path class="ar" d="M405,781 Q416,757 427,780"/>
<path class="ar" d="M477,800 C470,780 420,782 409,799"/>
<path class="ar" d="M449,830 Q455,853 471,831"/>
<path class="ar" d="M428,862 Q437,886 449,863"/>
<path class="ar" d="M470,1095 Q458,1070 430,1094"/>
<path class="ar" d="M418,1144 Q432,1171 465,1145"/>
<path class="ar" d="M300,1227 Q310,1203 319,1226"/>
<path class="ar" d="M321,1256 Q312,1280 301,1257"/>
<path class="ar" d="M370,1337 Q335,1305 298,1337"/>
<path class="ar" d="M294,1395 Q330,1364 369,1395"/>
</g>
</svg>
